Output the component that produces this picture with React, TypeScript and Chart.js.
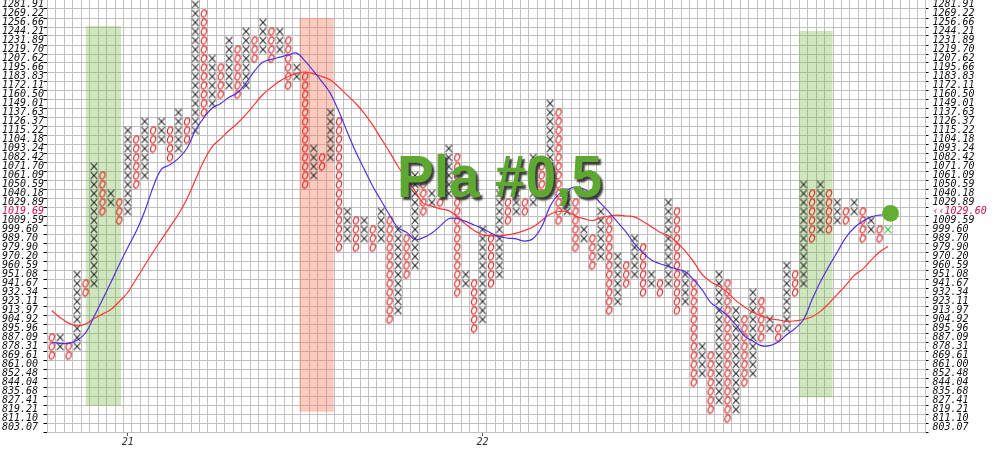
import React, { useEffect, useRef } from 'react';
import { Chart, registerables } from 'chart.js';

Chart.register(...registerables);

// Box price levels, top to bottom as printed on the axes
const priceLevelsTopDown = [
  '1281.91', '1269.22', '1256.66', '1244.21', '1231.89', '1219.70', '1207.62', '1195.66',
  '1183.83', '1172.11', '1160.50', '1149.01', '1137.63', '1126.37', '1115.22', '1104.18',
  '1093.24', '1082.42', '1071.70', '1061.09', '1050.59', '1040.18', '1029.89', '1019.69',
  '1009.59', '999.60', '989.70', '979.90', '970.20', '960.59', '951.08', '941.67',
  '932.34', '923.11', '913.97', '904.92', '895.96', '887.09', '878.31', '869.61',
  '861.00', '852.48', '844.04', '835.68', '827.41', '819.21', '811.10', '803.07',
];
const leftLabels = priceLevelsTopDown.slice().reverse(); // index = box row (0 = lowest)
const highlightRow = 24;
const lastPriceLabel = '‹‹1029.60';
const rightLabels = leftLabels.map((l, i) => (i === highlightRow ? lastPriceLabel : l));

// Point & figure columns
const colTypes = 'OXOXOXOXOXOXOXOXOXOXOXOXOXOXOXOXOXOXOXOXOXOXOXOXOXOXOXOXOXOXOXOXOXOXOXOXOXOXOXOXOXOXOXOXOXOXOXOXOXOX';
const colLow = [
  8, 9, 8, 9, 15, 16, 24, 25, 23, 24,
  27, 28, 31, 32, 30, 31, 32, 33, 35, 36,
  37, 38, 37, 38, 41, 42, 41, 42, 38, 39,
  27, 28, 29, 30, 20, 21, 20, 21, 20, 21,
  12, 13, 17, 18, 24, 25, 25, 26, 15, 16,
  11, 12, 16, 17, 23, 24, 24, 25, 26, 27,
  23, 24, 20, 21, 18, 19, 13, 14, 16, 17,
  15, 16, 15, 16, 13, 14, 5, 6, 2, 3,
  1, 2, 5, 6, 10, 11, 10, 11, 15, 16,
  21, 22, 22, 23, 23, 24, 21, 22, 21, 22,
];
const colHigh = [
  10, 10, 9, 17, 16, 29, 28, 26, 25, 33,
  32, 34, 33, 34, 33, 35, 34, 47, 46, 41,
  40, 43, 42, 44, 43, 45, 44, 44, 43, 40,
  39, 31, 30, 35, 34, 24, 23, 23, 22, 24,
  23, 22, 21, 28, 27, 26, 25, 31, 30, 17,
  16, 22, 21, 26, 25, 26, 25, 30, 29, 36,
  35, 26, 25, 22, 21, 24, 23, 19, 18, 21,
  20, 17, 16, 25, 24, 17, 16, 9, 8, 17,
  16, 13, 12, 15, 14, 12, 11, 18, 17, 27,
  26, 27, 26, 25, 24, 25, 24, 23, 22, 22,
];

// Moving averages (in box rows) per column
const fastMA = [
  9.5, 9.35, 9.35, 9.7, 10.5, 12.3, 14.2, 16.1, 18.1, 20.0,
  21.8, 24.0, 26.7, 28.7, 29.2, 29.9, 31.0, 33.0, 34.4, 35.5,
  36.0, 36.7, 37.2, 38.3, 39.6, 40.6, 40.9, 41.15, 41.4, 41.6,
  40.7, 39.6, 38.4, 37.1, 35.1, 32.8, 30.6, 28.7, 26.8, 25.2,
  23.6, 22.2, 21.7, 20.9, 21.1, 21.6, 22.4, 23.2, 23.2, 22.9,
  22.5, 22.1, 21.6, 21.2, 21.05, 20.95, 20.7, 21.0, 22.3, 24.6,
  25.9, 26.4, 26.7, 26.5, 25.9, 24.9, 23.9, 22.8, 21.7, 20.4,
  19.4, 18.6, 18.2, 17.9, 17.6, 17.3, 16.4, 15.3, 13.9, 13.2,
  12.4, 11.4, 10.2, 9.6, 9.1, 9.1, 9.5, 10.3, 11.0, 12.0,
  14.2, 16.2, 17.9, 19.5, 21.1, 22.2, 22.9, 23.4, 23.6, 23.65,
];
const slowMA = [
  13.0, 12.2, 11.6, 11.3, 11.5, 12.1, 12.6, 13.1, 14.0, 15.0,
  16.5, 18.0, 19.5, 20.9, 22.3, 23.7, 25.4, 27.5, 29.6, 31.2,
  32.1, 33.0, 33.8, 34.8, 35.9, 37.0, 37.8, 38.5, 39.0, 39.35,
  39.5, 39.3, 39.0, 38.6, 37.8, 36.9, 36.0, 34.9, 33.6, 32.1,
  30.6, 29.0, 27.7, 26.3, 24.9, 24.6, 24.3, 24.1, 23.4, 22.6,
  21.9, 21.4, 21.3, 21.3, 21.4, 21.6, 21.9, 22.3, 23.0, 23.7,
  24.0, 24.0, 23.5, 23.2, 23.0, 23.3, 23.5, 23.6, 23.5, 23.4,
  22.9, 22.3, 21.7, 21.3, 20.6, 19.6, 18.4, 17.0, 16.2, 15.7,
  15.0, 14.1, 13.4, 12.8, 12.4, 12.1, 11.95, 11.8, 11.85, 12.0,
  12.3, 12.9, 13.8, 14.8, 15.8, 16.9, 17.6, 18.6, 19.5, 20.1,
];

// Highlighted column spans (column units) and their box-row extents
const shadeStart = [4.0, 29.3, 88.45];
const shadeEnd = [8.2, 33.4, 92.45];
const shadeTop = [44.6, 45.5, 44.05];
const shadeBottom = [2.4, 1.75, 3.35];
const shadeColors = ['rgba(110,180,60,0.33)', 'rgba(245,110,80,0.36)', 'rgba(110,180,60,0.33)'];

// Current price marker
const currentCol = 99.3;
const currentRow = 23.8;

// X axis date labels
const xTickCols = [9, 51];
const xTickLabels = ['21', '22'];

const overlayText = 'Pla #0,5';
const colMin = -0.5;
const colMax = 103.44;
const rowMin = -0.5;
const rowMax = 47.5;

const GRID = '#c0c0c0';
const CRIMSON = '#c8174e';
const tickFont = { family: "'DejaVu Sans Mono', monospace", size: 10, style: 'italic' as const };

function makeXGlyph(color: string) {
  const c = document.createElement('canvas');
  c.width = 10;
  c.height = 10;
  const g = c.getContext('2d')!;
  g.strokeStyle = color;
  g.lineWidth = 1.05;
  g.lineCap = 'butt';
  g.beginPath();
  g.moveTo(1.6, 1.4);
  g.lineTo(8.4, 8.6);
  g.moveTo(8.4, 1.4);
  g.lineTo(1.6, 8.6);
  g.stroke();
  return c;
}

function makeOGlyph(color: string) {
  const c = document.createElement('canvas');
  c.width = 10;
  c.height = 10;
  const g = c.getContext('2d')!;
  g.strokeStyle = color;
  g.lineWidth = 1.15;
  g.beginPath();
  g.ellipse(5, 5, 2.5, 3.6, 0.35, 0, Math.PI * 2);
  g.stroke();
  return c;
}

const overlayPlugin = {
  id: 'overlayText',
  afterDatasetsDraw(chart: any) {
    const ctx = chart.ctx as CanvasRenderingContext2D;
    ctx.save();
    ctx.font = 'bold 59px "Liberation Sans", Arial, sans-serif';
    ctx.textAlign = 'left';
    ctx.textBaseline = 'alphabetic';
    ctx.shadowColor = 'rgba(40,40,40,0.9)';
    ctx.shadowOffsetX = 2.5;
    ctx.shadowOffsetY = 2.5;
    ctx.shadowBlur = 2;
    ctx.fillStyle = '#5ea832';
    ctx.fillText(overlayText, 397, 197, 205);
    ctx.restore();
  },
};

const noPad = (s: any) => {
  s.paddingTop = 0;
  s.paddingBottom = 0;
  s.paddingLeft = 0;
  s.paddingRight = 0;
};

export default function App() {
  const ref = useRef<HTMLCanvasElement>(null);

  useEffect(() => {
    document.body.style.margin = '0';
    const xGlyph = makeXGlyph('#2a2a2a');
    const oGlyph = makeOGlyph('#dd2222');
    const liveGlyph = makeXGlyph('#2fbf2f');

    const xPts: { x: number; y: number }[] = [];
    const oPts: { x: number; y: number }[] = [];
    const livePts: { x: number; y: number }[] = [];
    const last = colLow.length - 1;
    colLow.forEach((lo, c) => {
      for (let r = lo; r <= colHigh[c]; r++) {
        const p = { x: c, y: r };
        if (c === last) livePts.push(p);
        else if (colTypes[c] === 'X') xPts.push(p);
        else oPts.push(p);
      }
    });

    const shadeSets = shadeStart.map((s, i) => ({
      data: [
        { x: s, y: shadeTop[i] },
        { x: shadeEnd[i], y: shadeTop[i] },
      ],
      showLine: true,
      borderWidth: 0,
      borderColor: 'rgba(0,0,0,0)',
      backgroundColor: shadeColors[i],
      fill: { value: shadeBottom[i] },
      pointRadius: 0,
      order: 10,
    }));

    const rowTicks = leftLabels.map((_, i) => ({ value: i }));
    const colTicks = colLow.map((_, i) => ({ value: i })).concat(
      [100, 101, 102, 103].map((v) => ({ value: v }))
    );

    const chart = new Chart(ref.current!, {
      type: 'line',
      data: {
        datasets: [
          {
            data: [{ x: currentCol, y: currentRow }],
            showLine: false,
            pointRadius: 8.4,
            pointBackgroundColor: '#62ad32',
            pointBorderWidth: 0,
            order: 0,
          },
          {
            data: fastMA.map((v, i) => ({ x: i, y: v })),
            borderColor: '#5530e0',
            borderWidth: 1.2,
            pointRadius: 0,
            tension: 0.4,
            fill: false,
            order: 1,
          },
          {
            data: slowMA.map((v, i) => ({ x: i, y: v })),
            borderColor: '#ff3434',
            borderWidth: 1.2,
            pointRadius: 0,
            tension: 0.4,
            fill: false,
            order: 2,
          },
          { data: xPts, showLine: false, pointStyle: xGlyph as any, pointRadius: 4, order: 3 },
          { data: oPts, showLine: false, pointStyle: oGlyph as any, pointRadius: 4, order: 3 },
          { data: livePts, showLine: false, pointStyle: liveGlyph as any, pointRadius: 4, order: 3 },
          ...shadeSets,
        ] as any,
      },
      options: {
        responsive: false,
        animation: false,
        events: [],
        layout: { autoPadding: false, padding: { left: 2, right: 0, top: 0, bottom: 0 } },
        plugins: { legend: { display: false }, tooltip: { enabled: false }, title: { display: false } },
        scales: {
          x: {
            type: 'linear',
            position: 'bottom',
            min: colMin,
            max: colMax,
            afterBuildTicks: (s: any) => {
              s.ticks = colTicks.map((t) => ({ ...t }));
            },
            afterFit: (s: any) => {
              s.height = 0;
              noPad(s);
            },
            grid: { color: GRID, offset: true, drawTicks: false, lineWidth: 1 },
            border: { display: true, color: GRID },
            ticks: { display: false, autoSkip: false },
          },
          x2: {
            type: 'linear',
            position: 'bottom',
            min: colMin,
            max: colMax,
            afterBuildTicks: (s: any) => {
              s.ticks = xTickCols.map((v) => ({ value: v }));
            },
            afterFit: (s: any) => {
              s.height = 26;
              noPad(s);
            },
            grid: { drawOnChartArea: false, drawTicks: true, tickLength: 4, tickColor: '#555' },
            border: { display: false },
            ticks: {
              autoSkip: false,
              padding: 0,
              maxRotation: 0,
              color: '#333',
              font: tickFont,
              callback: (v: any) => {
                const k = xTickCols.indexOf(Number(v));
                return k >= 0 ? xTickLabels[k] : '';
              },
            },
          },
          y: {
            type: 'linear',
            position: 'left',
            min: rowMin,
            max: rowMax,
            afterBuildTicks: (s: any) => {
              s.ticks = rowTicks.map((t) => ({ ...t }));
            },
            afterFit: (s: any) => {
              s.width = 45.5;
              noPad(s);
            },
            grid: { color: GRID, offset: true, tickLength: 4, tickColor: '#000', lineWidth: 1 },
            border: { display: true, color: GRID },
            ticks: {
              autoSkip: false,
              crossAlign: 'far',
              padding: 2,
              font: tickFont,
              color: (ctx: any) => (ctx.tick && ctx.tick.value === highlightRow ? CRIMSON : '#111'),
              callback: (v: any) => leftLabels[Number(v)] ?? '',
            },
          },
          y2: {
            type: 'linear',
            position: 'right',
            min: rowMin,
            max: rowMax,
            afterBuildTicks: (s: any) => {
              s.ticks = rowTicks.map((t) => ({ ...t }));
            },
            afterFit: (s: any) => {
              s.width = 74.5;
              noPad(s);
            },
            grid: { drawOnChartArea: false, offset: true, tickLength: 3, tickColor: '#000' },
            border: { display: true, color: GRID },
            ticks: {
              autoSkip: false,
              crossAlign: 'near',
              padding: 4,
              font: tickFont,
              color: (ctx: any) => (ctx.tick && ctx.tick.value === highlightRow ? CRIMSON : '#111'),
              callback: (v: any) => rightLabels[Number(v)] ?? '',
            },
          },
        },
      } as any,
      plugins: [overlayPlugin],
    });
    return () => chart.destroy();
  }, []);

  return (
    <div style={{ position: 'absolute', left: 0, top: 0, width: 1000, height: 458, background: '#fff' }}>
      <canvas ref={ref} width={1000} height={458} style={{ display: 'block', width: 1000, height: 458 }} />
    </div>
  );
}
